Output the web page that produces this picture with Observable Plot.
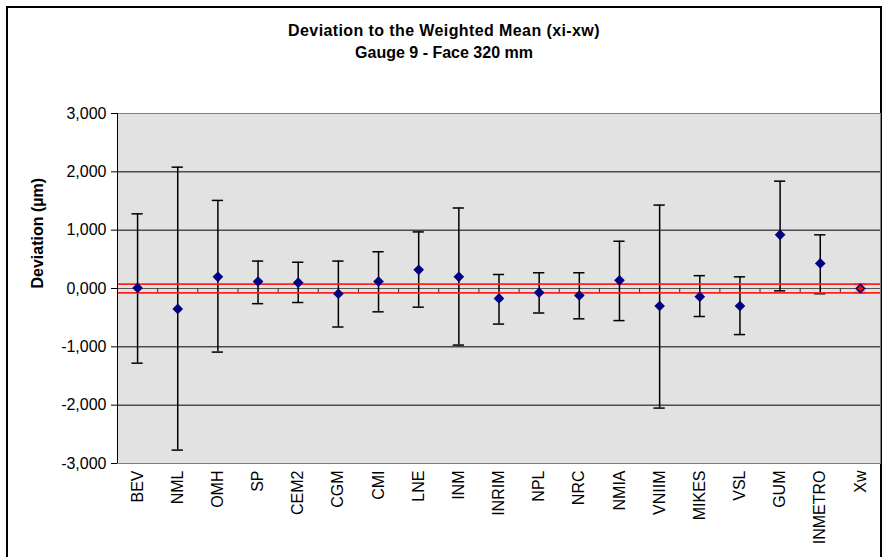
<!DOCTYPE html>
<html>
<head>
<meta charset="utf-8">
<script src="https://cdn.jsdelivr.net/npm/d3@7"></script>
<script src="https://cdn.jsdelivr.net/npm/@observablehq/plot@0.6"></script>
<style>
  html, body { margin: 0; padding: 0; background: #fff; }
  #wrap { position: relative; width: 885px; height: 557px; overflow: hidden; font-family: "Liberation Sans", Arial, sans-serif; }
  #border { position: absolute; left: 6px; top: 6px; width: 876px; height: 600px; border-left: 2px solid #000; border-top: 2px solid #000; border-right: 2px solid #000; box-sizing: border-box; }
  .ttl { position: absolute; left: 6px; width: 876px; text-align: center; font-weight: bold; font-size: 16px; color: #000; }
  svg { position: absolute; left: 0; top: 0; }
</style>
</head>
<body>
<div id="wrap">
  <div id="border"></div>
</div>
<script>
const title = "Deviation to the Weighted Mean (xi-xw)";
const subtitle = "Gauge 9 - Face 320 mm";
const yTitle = "Deviation (µm)";

const labels = ["BEV","NML","OMH","SP","CEM2","CGM","CMI","LNE","INM","INRIM","NPL","NRC","NMIA","VNIIM","MIKES","VSL","GUM","INMETRO","Xw"];
const values = [0.01,-0.35,0.20,0.12,0.10,-0.09,0.12,0.32,0.20,-0.17,-0.07,-0.12,0.14,-0.30,-0.14,-0.30,0.92,0.43,0.00];
const lower  = [-1.28,-2.77,-1.09,-0.26,-0.24,-0.66,-0.40,-0.32,-0.97,-0.61,-0.42,-0.52,-0.55,-2.05,-0.48,-0.79,-0.04,-0.09,-0.07];
const upper  = [1.28,2.08,1.51,0.47,0.45,0.47,0.63,0.97,1.38,0.24,0.27,0.27,0.81,1.43,0.22,0.20,1.84,0.92,0.07];
const refName = "Xw";
const refLimits = [0.075, -0.075];
const yTicks = [-3,-2,-1,0,1,2,3];
const gridVals = [-2,-1,1,2];

const n = labels.length;
const data = labels.map((label, i) => ({i, label, v: values[i], lo: lower[i], hi: upper[i]}));
const fmt = d => d3.format(".3f")(d).replace(".", ",").replace("−", "-");
const capHalf = 0.14;

const chart = Plot.plot({
  width: 885,
  height: 557,
  marginLeft: 117,
  marginRight: 5,
  marginTop: 113,
  marginBottom: 94,
  style: {fontFamily: "'Liberation Sans', Arial, sans-serif", fontSize: "16px", background: "transparent", color: "#000"},
  x: {domain: [-0.5, n - 0.5], axis: null},
  y: {domain: [-3, 3], axis: null},
  marks: [
    Plot.frame({fill: "#e2e2e2", stroke: null}),
    Plot.ruleY(gridVals, {stroke: "#000", strokeWidth: 1}),
    Plot.ruleY([0], {stroke: "#555", strokeWidth: 1.2}),
    Plot.ruleX(d3.range(1, n + 1), {x: d => d - 0.5, y1: 0, y2: -0.07, stroke: "#333", strokeWidth: 1}),
    Plot.ruleX(data, {x: "i", y1: "lo", y2: "hi", stroke: "#000", strokeWidth: 1.5}),
    Plot.ruleY(data, {y: "hi", x1: d => d.i - capHalf, x2: d => d.i + capHalf, stroke: "#000", strokeWidth: 1.5}),
    Plot.ruleY(data, {y: "lo", x1: d => d.i - capHalf, x2: d => d.i + capHalf, stroke: "#000", strokeWidth: 1.5}),
    Plot.ruleY(refLimits, {stroke: "#ff2020", strokeWidth: 1.6}),
    Plot.dot(data, {x: "i", y: "v", symbol: "diamond2", r: 4.8, fill: "#000080", stroke: null}),
    Plot.dot(data.filter(d => d.label === refName), {x: "i", y: "v", symbol: "diamond2", r: 2.8, fill: "#ff0000", stroke: null}),
    Plot.frame({stroke: "#808080", strokeWidth: 1}),
    Plot.ruleX([-0.5], {stroke: "#000", strokeWidth: 1}),
    Plot.axisY({ticks: yTicks, tickFormat: fmt, tickSize: 6, tickPadding: 5, fontSize: 16, label: null}),
    Plot.axisX({ticks: d3.range(n), tickFormat: i => labels[i], tickRotate: -90, tickSize: 0, tickPadding: 7, fontSize: 16, label: null}),
    Plot.text([yTitle], {frameAnchor: "left", rotate: -90, dx: -80, fontWeight: "bold", fontSize: 16})
  ]
});

const wrap = document.getElementById("wrap");
wrap.appendChild(chart);
const t1 = document.createElement("div");
t1.className = "ttl"; t1.style.top = "22px"; t1.style.letterSpacing = "0.4px"; t1.textContent = title;
const t2 = document.createElement("div");
t2.className = "ttl"; t2.style.top = "44px"; t2.textContent = subtitle;
wrap.appendChild(t1); wrap.appendChild(t2);
</script>
</body>
</html>
